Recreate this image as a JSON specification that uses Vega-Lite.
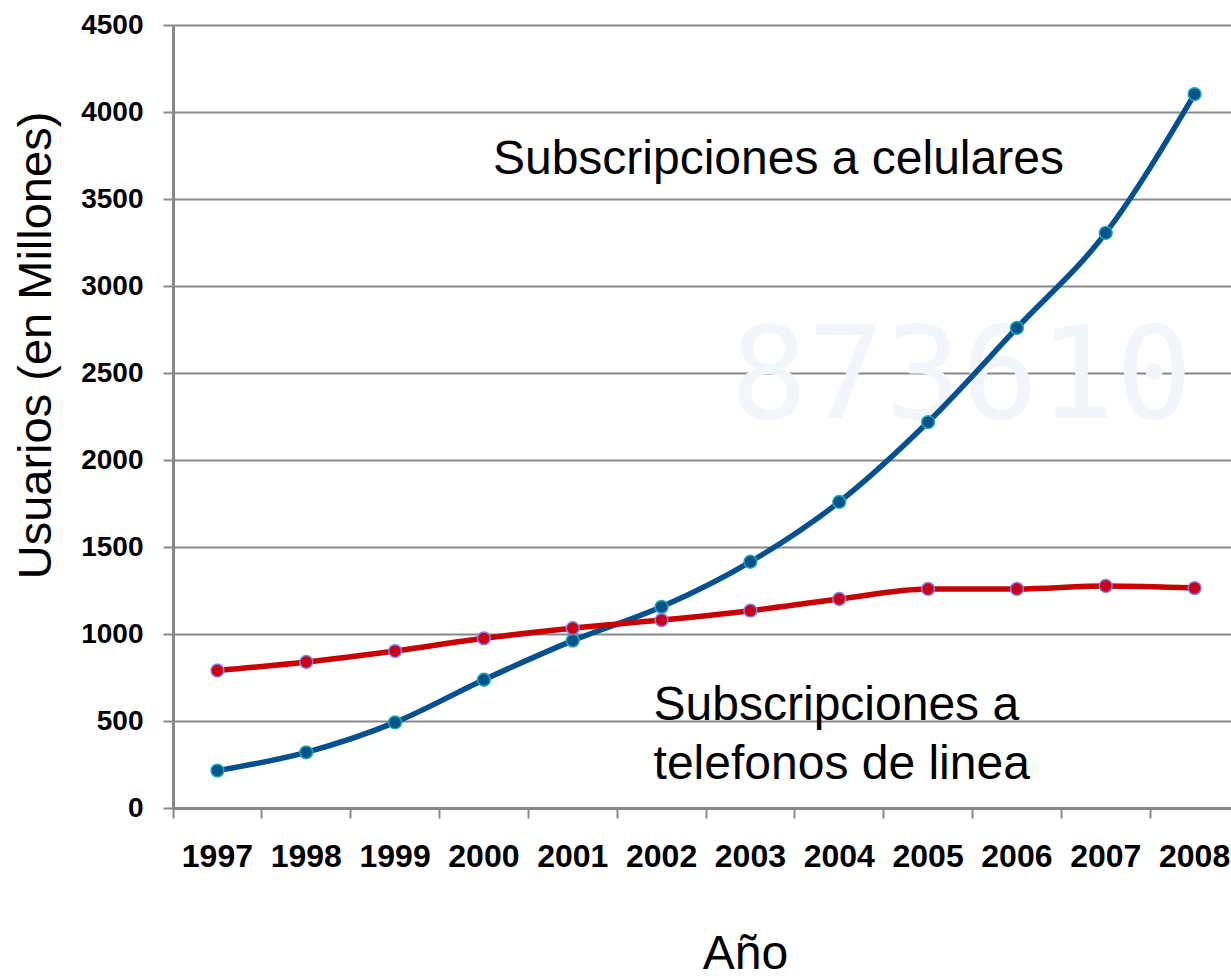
{
  "$schema": "https://vega.github.io/schema/vega-lite/v6.json",
  "width": 1058,
  "height": 783,
  "autosize": {"type": "none"},
  "padding": {"left": 173, "top": 25, "right": 0, "bottom": 171},
  "background": "white",
  "config": {"view": {"stroke": null}, "font": "Liberation Sans"},
  "datasets": {
    "series": [
      {"year": "1997", "serie": "Celulares", "value": 215},
      {"year": "1998", "serie": "Celulares", "value": 320},
      {"year": "1999", "serie": "Celulares", "value": 492},
      {"year": "2000", "serie": "Celulares", "value": 737},
      {"year": "2001", "serie": "Celulares", "value": 962},
      {"year": "2002", "serie": "Celulares", "value": 1156},
      {"year": "2003", "serie": "Celulares", "value": 1415},
      {"year": "2004", "serie": "Celulares", "value": 1759},
      {"year": "2005", "serie": "Celulares", "value": 2218},
      {"year": "2006", "serie": "Celulares", "value": 2759},
      {"year": "2007", "serie": "Celulares", "value": 3305},
      {"year": "2008", "serie": "Celulares", "value": 4103},
      {"year": "1997", "serie": "Fijos", "value": 790},
      {"year": "1998", "serie": "Fijos", "value": 839},
      {"year": "1999", "serie": "Fijos", "value": 902},
      {"year": "2000", "serie": "Fijos", "value": 975},
      {"year": "2001", "serie": "Fijos", "value": 1033},
      {"year": "2002", "serie": "Fijos", "value": 1080},
      {"year": "2003", "serie": "Fijos", "value": 1134},
      {"year": "2004", "serie": "Fijos", "value": 1201},
      {"year": "2005", "serie": "Fijos", "value": 1259},
      {"year": "2006", "serie": "Fijos", "value": 1259},
      {"year": "2007", "serie": "Fijos", "value": 1276},
      {"year": "2008", "serie": "Fijos", "value": 1264}
    ],
    "marca": [{"t": "873610"}]
  },
  "layer": [
    {
      "data": {"name": "series"},
      "mark": {"type": "line", "strokeWidth": 5.5, "interpolate": "monotone"},
      "encoding": {
        "x": {
          "field": "year",
          "type": "ordinal",
          "scale": {"type": "band", "range": [0, 1066], "paddingInner": 0, "paddingOuter": 0},
          "axis": {
            "title": "Año",
            "titleFontSize": 48,
            "titleFontWeight": "normal",
            "titleColor": "black",
            "titleX": 572,
            "titleY": 160,
            "titleAlign": "center",
            "titleBaseline": "alphabetic",
            "labelAngle": 0,
            "labelFontSize": 32,
            "labelFontWeight": "bold",
            "labelColor": "black",
            "labelPadding": 23,
            "bandPosition": 0,
            "tickSize": 10,
            "tickWidth": 2,
            "tickColor": "#888888",
            "domainColor": "#888888",
            "domainWidth": 3,
            "grid": false
          }
        },
        "y": {
          "field": "value",
          "type": "quantitative",
          "scale": {"domain": [0, 4500], "nice": false},
          "axis": {
            "title": "Usuarios (en Millones)",
            "titleFontSize": 47,
            "titleFontWeight": "normal",
            "titleColor": "black",
            "titleAngle": -90,
            "titleX": -123,
            "titleY": 320,
            "titleAlign": "center",
            "titleBaseline": "alphabetic",
            "values": [0, 500, 1000, 1500, 2000, 2500, 3000, 3500, 4000, 4500],
            "format": "d",
            "labelFontSize": 28,
            "labelFontWeight": "bold",
            "labelColor": "black",
            "labelPadding": 20,
            "tickSize": 10,
            "tickWidth": 2,
            "tickColor": "#888888",
            "domainColor": "#888888",
            "domainWidth": 3,
            "grid": true,
            "gridColor": "#888888",
            "gridWidth": 2,
            "gridOpacity": 1
          }
        },
        "color": {
          "field": "serie",
          "type": "nominal",
          "scale": {"domain": ["Celulares", "Fijos"], "range": ["#06508f", "#c80000"]},
          "legend": null
        },
        "opacity": {"value": 0}
      }
    },
    {
      "data": {"name": "marca"},
      "mark": {"type": "text", "align": "left", "baseline": "middle", "font": "DejaVu Sans Mono", "fontSize": 128, "color": "#f2f5f9", "dx": -20},
      "encoding": {
        "x": {"datum": "2003", "type": "ordinal"},
        "y": {"datum": 2460, "type": "quantitative"},
        "text": {"field": "t", "type": "nominal"}
      }
    },
    {
      "data": {"name": "series"},
      "mark": {"type": "line", "strokeWidth": 5.5, "interpolate": "monotone"},
      "encoding": {
        "x": {"field": "year", "type": "ordinal"},
        "y": {"field": "value", "type": "quantitative"},
        "color": {"field": "serie", "type": "nominal", "legend": null}
      }
    },
    {
      "data": {"name": "series"},
      "mark": {"type": "point", "shape": "circle", "filled": true, "size": 165, "strokeWidth": 1.5, "opacity": 1},
      "encoding": {
        "x": {"field": "year", "type": "ordinal"},
        "y": {"field": "value", "type": "quantitative"},
        "fill": {
          "field": "serie",
          "type": "nominal",
          "scale": {"domain": ["Celulares", "Fijos"], "range": ["#04548c", "#c8001a"]},
          "legend": null
        },
        "stroke": {
          "field": "serie",
          "type": "nominal",
          "scale": {"domain": ["Celulares", "Fijos"], "range": ["#22a8b8", "#8080f0"]},
          "legend": null
        }
      }
    },
    {
      "data": {"values": [{"t": "Subscripciones a celulares"}]},
      "mark": {"type": "text", "align": "left", "baseline": "middle", "fontSize": 48, "color": "black", "dx": 9},
      "encoding": {
        "x": {"datum": "2000", "type": "ordinal"},
        "y": {"datum": 3724, "type": "quantitative"},
        "text": {"field": "t", "type": "nominal"}
      }
    },
    {
      "data": {"values": [{"t": ["Subscripciones a", "telefonos de linea"]}]},
      "mark": {"type": "text", "align": "left", "baseline": "middle", "fontSize": 48, "lineHeight": 59, "color": "black", "dx": -8},
      "encoding": {
        "x": {"datum": "2002", "type": "ordinal"},
        "y": {"datum": 584, "type": "quantitative"},
        "text": {"field": "t", "type": "nominal"}
      }
    }
  ]
}
